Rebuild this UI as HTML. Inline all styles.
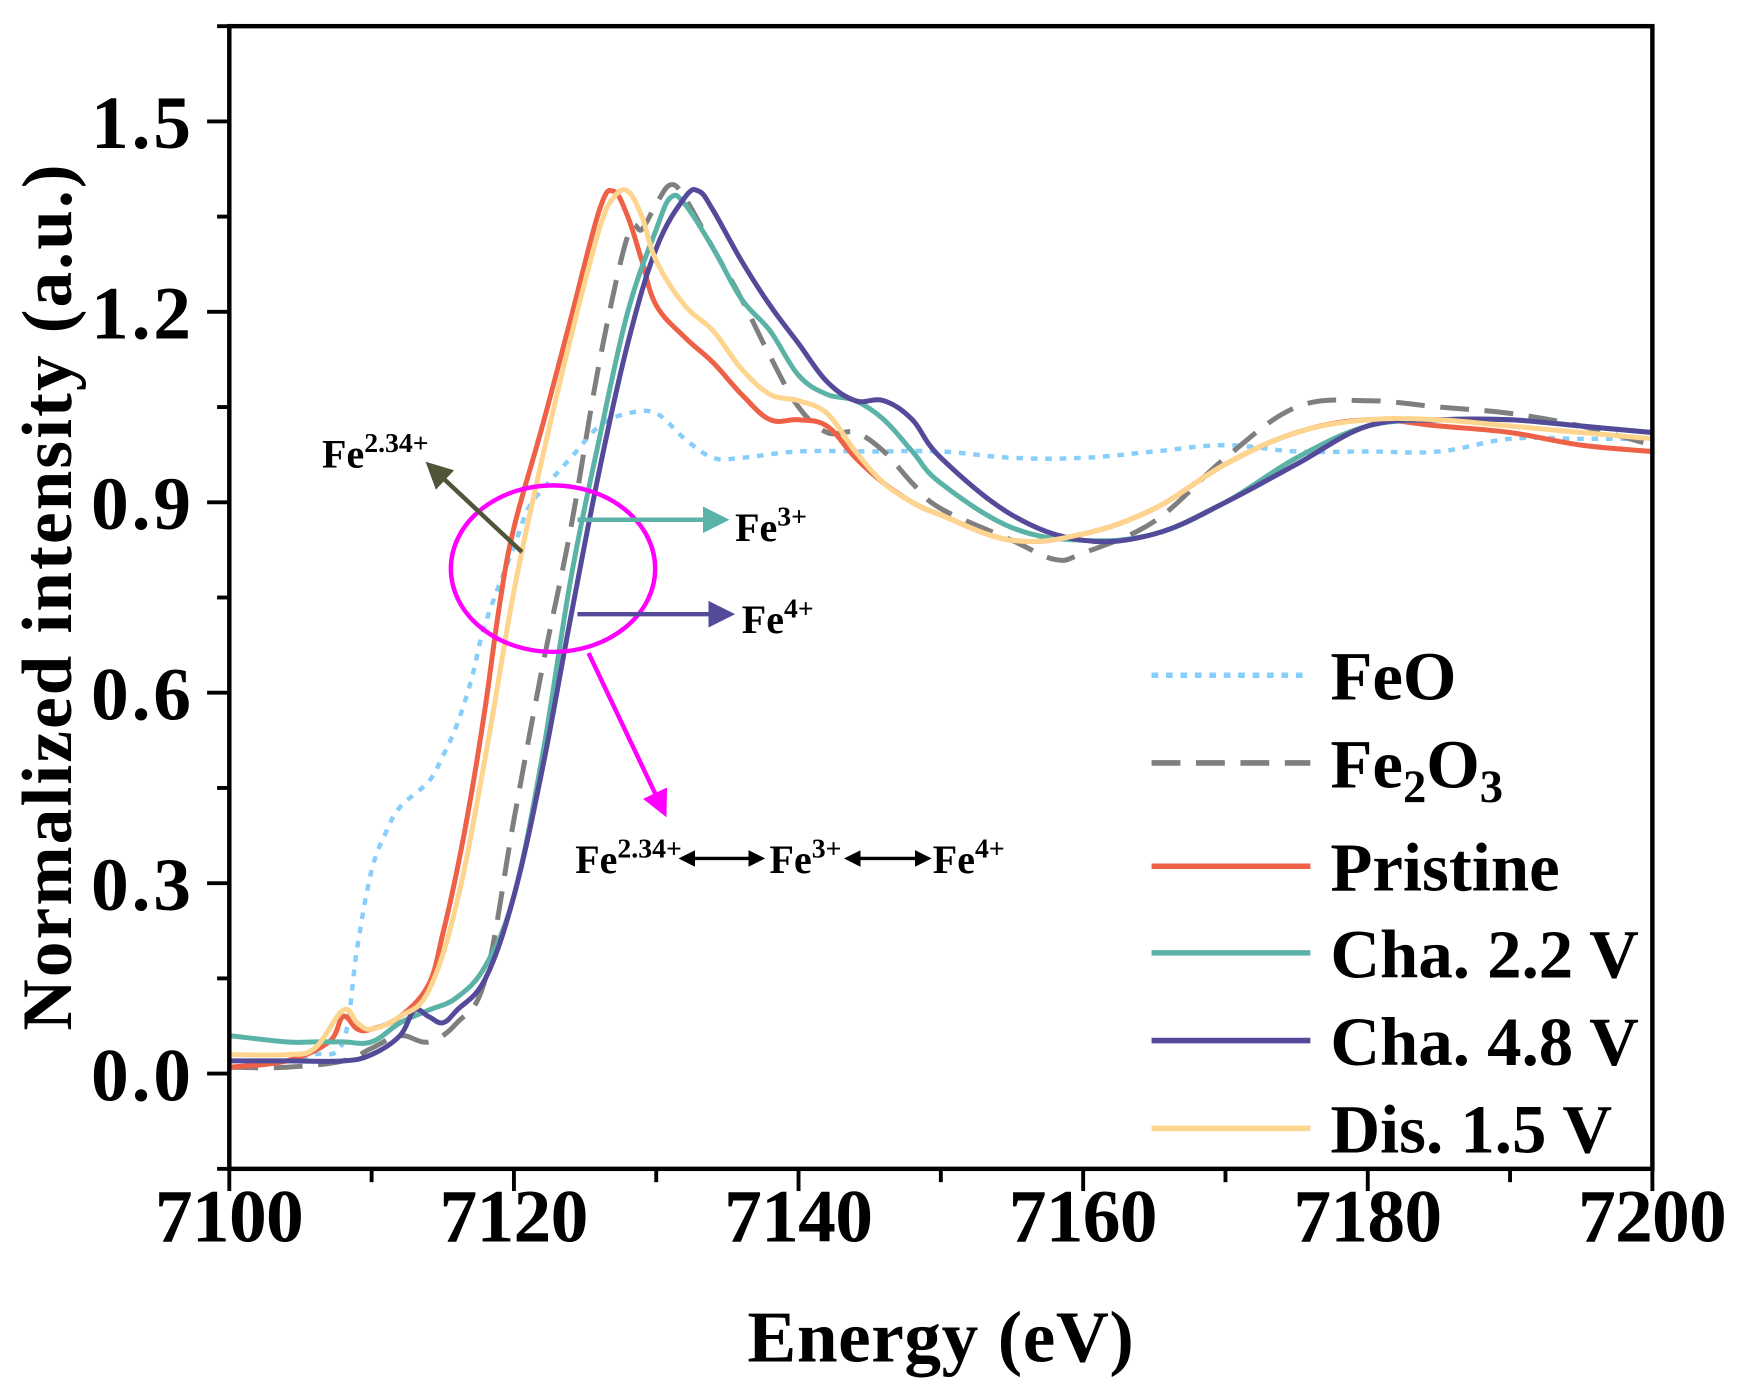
<!DOCTYPE html>
<html><head><meta charset="utf-8"><style>
html,body{margin:0;padding:0;background:#fff}
svg{display:block}
text{font-family:"Liberation Serif",serif;font-weight:bold;fill:#000}
</style></head><body>
<svg id="chart" width="1739" height="1396" viewBox="0 0 1566 1257" xmlns="http://www.w3.org/2000/svg">
<defs>
<marker id="hOlive" markerWidth="6" markerHeight="6" refX="3" refY="3" orient="auto" markerUnits="strokeWidth"><path d="M0,0 L6,3 L0,6 z" fill="#4f5538"/></marker>
<marker id="hTeal" markerWidth="6" markerHeight="6" refX="3" refY="3" orient="auto" markerUnits="strokeWidth"><path d="M0,0 L6,3 L0,6 z" fill="#5bb3a8"/></marker>
<marker id="hPurp" markerWidth="6" markerHeight="6" refX="3" refY="3" orient="auto" markerUnits="strokeWidth"><path d="M0,0 L6,3 L0,6 z" fill="#544a9a"/></marker>
<marker id="hMag" markerWidth="6" markerHeight="6" refX="3" refY="3" orient="auto" markerUnits="strokeWidth"><path d="M0,0 L6,3 L0,6 z" fill="#ff00ff"/></marker>
<marker id="hBlk" markerWidth="5" markerHeight="5" refX="4" refY="2.5" orient="auto-start-reverse" markerUnits="strokeWidth"><path d="M0,0 L5,2.5 L0,5 z" fill="#000"/></marker>
</defs>
<g id="series"></g>
<g id="axes"></g>
<g id="annot">
<ellipse cx="498" cy="512" rx="92" ry="75" fill="none" stroke="#ff00ff" stroke-width="4"/>
<line x1="470" y1="497" x2="392" y2="424" stroke="#4f5538" stroke-width="4" marker-end="url(#hOlive)"/>
<text x="290" y="421" font-size="36">Fe<tspan font-size="25" dy="-14">2.34+</tspan></text>
<line x1="520" y1="468" x2="645" y2="468" stroke="#5bb3a8" stroke-width="4" marker-end="url(#hTeal)"/>
<text x="662" y="487" font-size="36">Fe<tspan font-size="25" dy="-14">3+</tspan></text>
<line x1="520" y1="553" x2="650" y2="553" stroke="#544a9a" stroke-width="4" marker-end="url(#hPurp)"/>
<text x="668" y="570" font-size="36">Fe<tspan font-size="25" dy="-14">4+</tspan></text>
<line x1="530" y1="588" x2="595" y2="725" stroke="#ff00ff" stroke-width="4" marker-end="url(#hMag)"/>
<text x="518" y="786" font-size="36">Fe<tspan font-size="25" dy="-14">2.34+</tspan></text>
<line x1="614" y1="773" x2="686" y2="773" stroke="#000" stroke-width="3" marker-start="url(#hBlk)" marker-end="url(#hBlk)"/>
<text x="693" y="786" font-size="36">Fe<tspan font-size="25" dy="-14">3+</tspan></text>
<line x1="763" y1="773" x2="836" y2="773" stroke="#000" stroke-width="3" marker-start="url(#hBlk)" marker-end="url(#hBlk)"/>
<text x="840" y="786" font-size="36">Fe<tspan font-size="25" dy="-14">4+</tspan></text>
</g>
<g id="legend"></g>
</svg>
<script>
const NS="http://www.w3.org/2000/svg";
const xTicks=[7100,7120,7140,7160,7180,7200];
const yTicks=[0.0,0.3,0.6,0.9,1.2,1.5];
const yTickLabels=["0.0","0.3","0.6","0.9","1.2","1.5"];
const seriesNames=["FeO","Fe2O3","Pristine","Cha. 2.2 V","Cha. 4.8 V","Dis. 1.5 V"];
const feoE=[7100,7104,7106,7108,7109,7110,7111,7112,7114,7115,7116,7117,7118,7120,7121,7122,7124,7126,7128,7130,7132,7134,7136,7140,7145,7150,7155,7160,7165,7170,7175,7180,7185,7190,7195,7200];
const feoV=[.01,.02,.03,.05,.20,.32,.38,.42,.46,.50,.55,.62,.71,.83,.89,.92,.97,1.02,1.04,1.04,1.00,.97,.97,.98,.98,.98,.97,.97,.98,.99,.98,.98,.98,1.00,1.00,1.00];
const fe2o3E=[7100,7104,7108,7110,7112,7114,7116,7118,7120,7122,7124,7126,7128,7129,7130,7131,7132,7134,7136,7138,7140,7142,7144,7146,7148,7150,7155,7158,7160,7165,7170,7175,7180,7185,7190,7195,7200];
const fe2o3V=[.01,.01,.02,.04,.06,.05,.08,.15,.40,.64,.86,1.12,1.32,1.33,1.37,1.40,1.38,1.30,1.22,1.13,1.05,1.01,1.01,.98,.93,.89,.84,.81,.82,.87,.97,1.05,1.06,1.05,1.04,1.02,.99];
const pristE=[7100,7104,7107,7108,7109,7110,7112,7114,7115,7116,7117,7118,7119,7120,7122,7124,7126,7127,7128,7129,7130,7132,7134,7136,7138,7140,7142,7144,7146,7148,7150,7155,7160,7165,7170,7175,7180,7185,7190,7195,7200];
const pristV=[.01,.02,.05,.09,.07,.07,.09,.14,.22,.32,.44,.58,.74,.86,1.02,1.19,1.36,1.39,1.35,1.28,1.21,1.16,1.12,1.07,1.03,1.03,1.02,.97,.93,.90,.88,.84,.85,.89,.96,1.01,1.03,1.02,1.01,.99,.98];
const cha22E=[7100,7104,7106,7108,7110,7112,7114,7116,7118,7120,7122,7124,7126,7128,7130,7131,7132,7134,7136,7138,7140,7142,7144,7146,7148,7150,7155,7160,7165,7170,7175,7180,7185,7190,7195,7200];
const cha22V=[.06,.05,.05,.05,.05,.08,.10,.12,.17,.28,.50,.78,1.00,1.20,1.33,1.38,1.37,1.30,1.22,1.17,1.10,1.07,1.06,1.03,.98,.93,.86,.84,.85,.90,.97,1.02,1.03,1.03,1.02,1.01];
const cha48E=[7100,7104,7108,7110,7112,7113,7114,7115,7116,7118,7120,7122,7124,7126,7128,7130,7132,7133,7134,7136,7138,7140,7142,7144,7146,7148,7150,7155,7160,7165,7170,7175,7180,7185,7190,7195,7200];
const cha48V=[.02,.02,.02,.03,.06,.10,.09,.08,.10,.15,.28,.48,.72,.95,1.15,1.30,1.38,1.39,1.36,1.28,1.21,1.15,1.09,1.06,1.06,1.03,.97,.88,.84,.85,.90,.96,1.02,1.03,1.03,1.02,1.01];
const dis15E=[7100,7104,7106,7108,7109,7110,7112,7114,7116,7118,7120,7122,7124,7126,7127,7128,7129,7130,7132,7134,7136,7138,7140,7142,7144,7146,7148,7150,7155,7160,7165,7170,7175,7180,7185,7190,7195,7200];
const dis15V=[.03,.03,.04,.10,.08,.07,.09,.13,.27,.50,.76,.97,1.16,1.33,1.38,1.39,1.35,1.28,1.21,1.17,1.11,1.07,1.06,1.04,.98,.93,.90,.88,.84,.85,.89,.96,1.01,1.03,1.03,1.02,1.01,1.00];

const L=206.5,R=1488,T=23.5,B=1052.5,X0=7100,X1=7200,Y0=-0.15,Y1=1.65;
const sx=v=>L+(v-X0)/(X1-X0)*(R-L);
const sy=v=>B-(v-Y0)/(Y1-Y0)*(B-T);

function spline(xs,ys){
  const p=xs.map((x,i)=>[sx(x),sy(ys[i])]);
  let d="M"+p[0][0].toFixed(1)+","+p[0][1].toFixed(1);
  for(let i=0;i<p.length-1;i++){
    const p0=p[Math.max(0,i-1)],p1=p[i],p2=p[i+1],p3=p[Math.min(p.length-1,i+2)];
    const t=0.18;
    const c1=[p1[0]+(p2[0]-p0[0])*t,p1[1]+(p2[1]-p0[1])*t];
    const c2=[p2[0]-(p3[0]-p1[0])*t,p2[1]-(p3[1]-p1[1])*t];
    d+=" C"+c1.map(v=>v.toFixed(1))+" "+c2.map(v=>v.toFixed(1))+" "+p2.map(v=>v.toFixed(1));
  }
  return d;
}
const seriesDefs=[
 {e:feoE,v:feoV,c:"#87cefa",dash:"6,7",name:"series-feo"},
 {e:fe2o3E,v:fe2o3V,c:"#7f7f7f",dash:"26,14",name:"series-fe2o3"},
 {e:pristE,v:pristV,c:"#ee6146",dash:"",name:"series-pristine"},
 {e:cha22E,v:cha22V,c:"#5bb3a8",dash:"",name:"series-cha-2-2v"},
 {e:cha48E,v:cha48V,c:"#544a9a",dash:"",name:"series-cha-4-8v"},
 {e:dis15E,v:dis15V,c:"#fdd58e",dash:"",name:"series-dis-1-5v"}
];
const sg=document.getElementById("series");
const cp=document.createElementNS(NS,"clipPath");cp.id="clip";
const cr=document.createElementNS(NS,"rect");cr.setAttribute("x",L);cr.setAttribute("y",T);cr.setAttribute("width",R-L);cr.setAttribute("height",B-T);
cp.appendChild(cr);sg.appendChild(cp);
seriesDefs.forEach(s=>{
  const p=document.createElementNS(NS,"path");
  
  
  p.setAttribute("d",spline(s.e,s.v));
  p.setAttribute("fill","none");p.setAttribute("stroke",s.c);
  p.setAttribute("stroke-width",s.dash==="6,7"?4:4.5);
  if(s.dash)p.setAttribute("stroke-dasharray",s.dash);
  p.setAttribute("clip-path","url(#clip)");
  sg.appendChild(p);
});
const ag=document.getElementById("axes");
function line(x1,y1,x2,y2,w,name){
  const l=document.createElementNS(NS,"line");
  
  
  l.setAttribute("x1",x1);l.setAttribute("y1",y1);l.setAttribute("x2",x2);l.setAttribute("y2",y2);
  l.setAttribute("stroke","#000");l.setAttribute("stroke-width",w);ag.appendChild(l);
}
function text(x,y,s,size,anchor,name){
  const t=document.createElementNS(NS,"text");
  
  
  t.setAttribute("x",x);t.setAttribute("y",y);t.setAttribute("font-size",size);t.setAttribute("text-anchor",anchor);
  t.textContent=s;ag.appendChild(t);return t;
}
const fr=document.createElementNS(NS,"rect");


fr.setAttribute("x",L);fr.setAttribute("y",T);fr.setAttribute("width",R-L);fr.setAttribute("height",B-T);
fr.setAttribute("fill","none");fr.setAttribute("stroke","#000");fr.setAttribute("stroke-width",4);ag.appendChild(fr);
for(let v=X0;v<=X1;v+=10){const major=(v%20===0);line(sx(v),B,sx(v),B+(major?20:12),3.5,"x-tick");}
xTicks.forEach(v=>{const t=text(sx(v),1118,String(v),68,"middle","x-tick-label");t.setAttribute("textLength","134");});
for(let i=-1;i<=11;i++){const v=i*0.15;if(v<Y0-1e-9||v>Y1+1e-9)continue;const major=(i%2===0);line(L,sy(v),L-(major?20:11),sy(v),3.5,"y-tick");}
yTicks.forEach((v,i)=>{const t=text(172,sy(v)+24,yTickLabels[i],68,"end","y-tick-label");t.setAttribute("textLength","90");});
const xt=text(847,1226,"Energy (eV)",66,"middle","x-axis-title");xt.setAttribute("textLength","348");
const yt=text(0,0,"Normalized intensity (a.u.)",64,"middle","y-axis-title");
yt.setAttribute("transform","translate(64,538) rotate(-90)");yt.setAttribute("textLength","780");
const lg=document.getElementById("legend");
const ly=[608,687,780,858,937,1016];
seriesDefs.forEach((s,i)=>{
  const l=document.createElementNS(NS,"line");
  
  
  l.setAttribute("x1",1037);l.setAttribute("x2",1180);l.setAttribute("y1",ly[i]);l.setAttribute("y2",ly[i]);
  l.setAttribute("stroke",s.c);l.setAttribute("stroke-width",5);if(s.dash)l.setAttribute("stroke-dasharray",s.dash);
  lg.appendChild(l);
  const t=document.createElementNS(NS,"text");
  
  
  t.setAttribute("x",1198);t.setAttribute("y",ly[i]+22);t.setAttribute("font-size",62);
  if(i===1){t.innerHTML='Fe<tspan font-size="42" dy="13">2</tspan><tspan dy="-13">O</tspan><tspan font-size="42" dy="13">3</tspan>';}
  else t.textContent=seriesNames[i];
  lg.appendChild(t);
});
</script>
</body></html>
